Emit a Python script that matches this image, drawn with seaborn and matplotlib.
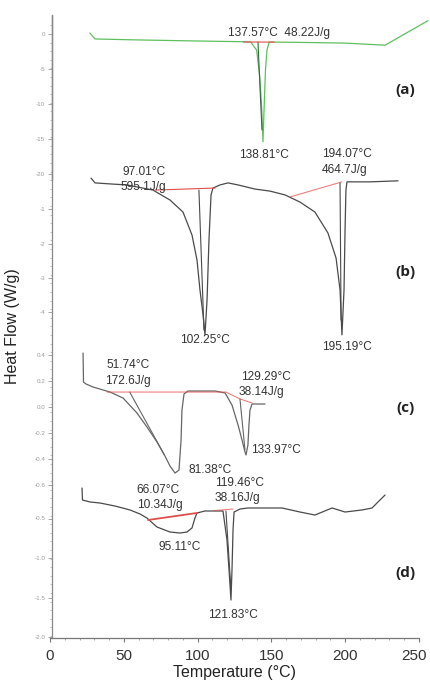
import matplotlib
matplotlib.use("Agg")
import matplotlib.pyplot as plt
import matplotlib.transforms as mtransforms
import seaborn as sns
import pandas as pd
import numpy as np

# ---------------- data (temperature in degC, heat flow in W/g per panel) -------------
# panel (a)
a_T  = [27, 30.5, 60, 100, 130, 136, 140, 142, 143.5, 144.3, 145, 146, 147, 148.5, 170, 200, 227, 256]
a_HF = [0.14, -0.71, -0.85, -1.0, -1.1, -1.15, -2.3, -5.9, -10.9, -15.4, -10.9, -5.1, -2.3, -1.15, -1.2, -1.3, -1.6, 1.9]
a_tan_T, a_tan_HF = [140.9, 143.6], [-1.14, -13.7]
a_base_T, a_base_HF = [131.0, 152.0], [-1.14, -1.16]

# panel (b)
b_T  = [27.8, 30.5, 40.7, 52.2, 69.8, 81.3, 90.1, 96.2, 99.6, 101.6, 103.7, 105.0, 106.4, 107.7, 109.1,
        110.4, 115.2, 120.6, 127.4, 138.9, 149.1, 159.2, 169.4, 179.5, 188.3, 193.8, 196.5, 197.8,
        199.2, 199.9, 200.5, 201.2, 216.8, 235.8]
b_HF = [-0.09, -0.23, -0.26, -0.29, -0.44, -0.73, -1.08, -1.75, -2.48, -3.35, -4.08, -4.66, -3.64, -1.90,
        -0.58, -0.38, -0.29, -0.23, -0.29, -0.41, -0.47, -0.58, -0.79, -1.08, -1.69, -2.42, -3.35, -4.66,
        -3.35, -1.60, -0.44, -0.20, -0.20, -0.17]
b_tan1_T, b_tan1_HF = [100.9, 104.3], [-0.44, -4.52]
b_tan2_T, b_tan2_HF = [196.5, 197.2], [-0.23, -4.23]
b_base1_T, b_base1_HF = [71.1, 111.8], [-0.44, -0.38]
b_base2_T, b_base2_HF = [162.6, 197.8], [-0.64, -0.20]

# panel (c)
c_T  = [22.4, 22.7, 24.4, 29.1, 40.7, 49.5, 58.9, 65.7, 72.5, 77.9, 81.3, 84.7, 87.4, 88.8, 89.4, 90.8,
        93.5, 101.6, 111.8, 118.6, 123.3, 127.4, 130.1, 132.1, 132.8, 134.1, 134.8, 135.5, 136.9, 145.7]
c_HF = [0.415, 0.192, 0.177, 0.154, 0.115, 0.069, -0.046, -0.154, -0.269, -0.377, -0.454, -0.508, -0.485,
        -0.254, -0.023, 0.100, 0.123, 0.123, 0.123, 0.108, 0.015, -0.138, -0.254, -0.346, -0.369, -0.292,
        -0.138, -0.023, 0.023, 0.023]
c_tan1_T, c_tan1_HF = [54.0, 77.5], [0.115, -0.369]
c_tan2_T, c_tan2_HF = [128.7, 132.1], [0.062, -0.330]
c_base_T, c_base_HF = [38.6, 119.2, 128.7, 136.9], [0.115, 0.115, 0.062, 0.031]

# panel (d)
d_T  = [21.7, 22.0, 27.1, 33.9, 44.0, 54.2, 61.0, 65.7, 72.5, 81.3, 88.1, 92.8, 96.2, 98.2, 99.6, 105.0,
        111.8, 117.2, 119.9, 121.3, 122.6, 123.3, 124.0, 124.7, 128.7, 134.1, 157.2, 169.4, 179.5, 191.1,
        199.9, 211.4, 218.2, 222.2, 227.0]
d_HF = [-0.114, -0.266, -0.291, -0.304, -0.342, -0.392, -0.443, -0.494, -0.608, -0.671, -0.684, -0.671,
        -0.620, -0.494, -0.430, -0.405, -0.405, -0.405, -0.772, -1.152, -1.532, -1.152, -0.646, -0.418,
        -0.380, -0.367, -0.367, -0.418, -0.456, -0.367, -0.418, -0.392, -0.367, -0.291, -0.203]
d_tan_T, d_tan_HF = [119.2, 122.6], [-0.405, -1.40]
d_base1_T, d_base1_HF = [66.4, 99.6], [-0.519, -0.430]
d_base2_T, d_base2_HF = [111.0, 124.0], [-0.40, -0.38]

# tick labels
x_ticks = [0, 50, 100, 150, 200, 250]
a_ticks = [0, -5, -10, -15, -20]
b_ticks = [-1, -2, -3, -4]
c_ticks = [0.4, 0.2, 0.0, -0.2, -0.4, -0.6]
d_ticks = [-0.5, -1.0, -1.5, -2.0]

# ---------------- layout: stacking of panels (offset, scale) ----------------
panel = {"a": (34, 7.0), "b": (175, 34.3), "c": (407, 130.0), "d": (479, 79.0)}

def stack(key, hf):
    p0, k = panel[key]
    return [k * h - p0 for h in hf]

sns.set_theme(style="ticks")
plt.rcParams["font.family"] = ["Liberation Sans", "DejaVu Sans"]

W, H = 430, 682
fig = plt.figure(figsize=(W / 100, H / 100), dpi=100)
ax = fig.add_axes([50 / W, 44 / H, 369 / W, 623 / H])

GRAY = "#4a4a4a"
GREEN = "#5fbf5f"
RED = "#e0504a"

def draw(key, T, HF, color, lw=0.9, alpha=1.0, clip=True):
    df = pd.DataFrame({"T": T, "y": stack(key, HF)})
    sns.lineplot(data=df, x="T", y="y", sort=False, estimator=None, color=color,
                 lw=lw, alpha=alpha, ax=ax, legend=False)
    ax.lines[-1].set_clip_on(clip)

draw("a", a_T, a_HF, GREEN, clip=False)
draw("a", a_tan_T, a_tan_HF, "#2e6b3a", lw=0.8)
draw("a", a_base_T, a_base_HF, RED, lw=0.8)

draw("b", b_T, b_HF, GRAY)
draw("b", b_tan1_T, b_tan1_HF, GRAY, lw=0.8)
draw("b", b_tan2_T, b_tan2_HF, GRAY, lw=0.8)
draw("b", b_base1_T, b_base1_HF, RED, lw=0.8)
draw("b", b_base2_T, b_base2_HF, RED, lw=0.8, alpha=0.7)

draw("c", c_T, c_HF, "#666666")
draw("c", c_tan1_T, c_tan1_HF, "#666666", lw=0.8)
draw("c", c_tan2_T, c_tan2_HF, "#666666", lw=0.8)
draw("c", c_base_T, c_base_HF, RED, lw=0.7, alpha=0.8)

draw("d", d_T, d_HF, GRAY)
draw("d", d_tan_T, d_tan_HF, GRAY, lw=0.8)
draw("d", d_base1_T, d_base1_HF, RED, lw=1.3)
draw("d", d_base2_T, d_base2_HF, RED, lw=0.8, alpha=0.7)

# ---------------- annotations ----------------
fs = 8.6
def note(key, T, hf, s, **kw):
    ax.text(T, stack(key, [hf])[0], s, fontsize=fs, color="#333333", ha="center", va="center", **kw)

note("a", 155, 0.1, "137.57°C  48.22J/g")
note("a", 145, -17.3, "138.81°C")
note("b", 63.5, 0.09, "97.01°C")
note("b", 63.5, -0.35, "595.1J/g")
note("b", 201, 0.6, "194.07°C")
note("b", 199.5, 0.15, "464.7J/g")
note("b", 105, -4.8, "102.25°C")
note("b", 201, -5.0, "195.19°C")
note("c", 53, 0.32, "51.74°C")
note("c", 53, 0.2, "172.6J/g")
note("c", 146.5, 0.23, "129.29°C")
note("c", 143.5, 0.115, "38.14J/g")
note("c", 108.5, -0.485, "81.38°C")
note("c", 153, -0.33, "133.97°C")
note("d", 73, -0.14, "66.07°C")
note("d", 74.5, -0.33, "10.34J/g")
note("d", 88, -0.86, "95.11°C")
note("d", 128.5, -0.05, "119.46°C")
note("d", 127, -0.24, "38.16J/g")
note("d", 124, -1.72, "121.83°C")

for key, hf, lab in [("a", -8.0, "(a)"), ("b", -2.83, "(b)"), ("c", -0.008, "(c)"), ("d", -1.19, "(d)")]:
    ax.text(241, stack(key, [hf])[0], lab, fontsize=11, fontweight="bold", color="#222222",
            ha="center", va="center", family=["Open Sans", "DejaVu Sans"])

# ---------------- axes ----------------
ax.set_xlim(0, 250)
ax.set_ylim(-638, -15)
ax.set_xticks(x_ticks)
ax.set_xticklabels([str(t) for t in x_ticks])
ax.set_xticks(np.arange(0, 251, 10), minor=True)

ypos, ylab = [], []
for key, ticks in [("a", a_ticks), ("b", b_ticks), ("c", c_ticks), ("d", d_ticks)]:
    for t in ticks:
        ypos.append(stack(key, [t])[0])
        ylab.append(f"{t:g}" if key in ("a", "b") else f"{t:.1f}")
ax.set_yticks(ypos)
ax.set_yticklabels(ylab)
ax.set_yticks(np.arange(-636, -20, 8.6), minor=True)

ax.tick_params(axis="x", which="major", length=3, width=0.8, color="#777777", pad=5,
               labelsize=11, labelcolor="#333333")
ax.tick_params(axis="x", which="minor", length=1.5, width=0.6, color="#999999")
ax.tick_params(axis="y", which="major", length=3, width=0.6, color="#999999", pad=2,
               labelsize=4.5, labelcolor="#9a9a9a")
ax.tick_params(axis="y", which="minor", length=1.5, width=0.5, color="#aaaaaa")

# keep the last x tick label inside the canvas
last = ax.get_xticklabels()[-1]
last.set_transform(last.get_transform() + mtransforms.ScaledTranslation(-5 / 100, 0, fig.dpi_scale_trans))

for s in ("top", "right"):
    ax.spines[s].set_visible(False)
ax.spines["left"].set_color("#888888")
ax.spines["left"].set_linewidth(0.9)
ax.spines["left"].set_position(("data", 1.4))
ax.spines["bottom"].set_color("#777777")
ax.spines["bottom"].set_linewidth(0.9)
ax.axvline(1.4, ymin=(638 - 180) / 623, ymax=1.0, color="#3aa59a", lw=1.0, clip_on=False)

ax.set_xlabel("Temperature (°C)", fontsize=11.5, color="#222222", labelpad=1)
ax.set_ylabel("Heat Flow (W/g)", fontsize=11.5, color="#222222", labelpad=10)

fig.savefig("out.png", dpi=100)
